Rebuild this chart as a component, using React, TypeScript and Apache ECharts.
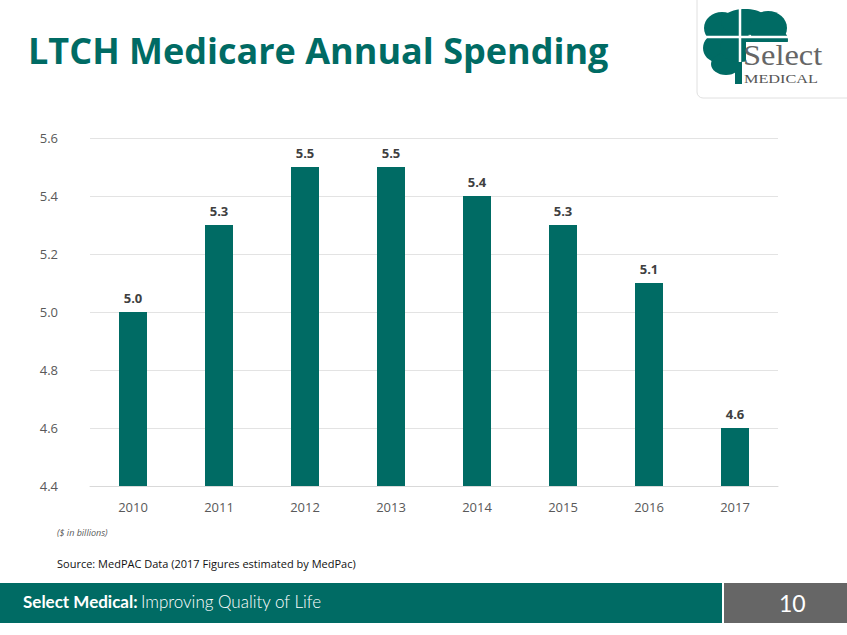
import React, { useEffect, useRef } from "react";
import * as echarts from "echarts";

const categories = ["2010", "2011", "2012", "2013", "2014", "2015", "2016", "2017"];
const spending = [5.0, 5.3, 5.5, 5.5, 5.4, 5.3, 5.1, 4.6];
const yMin = 4.4;
const yMax = 5.6;
const yStep = 0.2;

const TEAL = "#006b64";

export default function App() {
  const ref = useRef<HTMLDivElement>(null);
  useEffect(() => {
    if (!ref.current) return;
    const chart = echarts.init(ref.current, null, { renderer: "svg" });
    chart.setOption({
      animation: false,
      backgroundColor: "#ffffff",
      grid: { left: 90, right: 69, top: 138, bottom: 149 },
      xAxis: {
        type: "category",
        data: categories,
        axisLine: { show: true, lineStyle: { color: "#d9d9d9" } },
        axisTick: { show: false },
        axisLabel: { color: "#595959", fontSize: 13, fontFamily: "Open Sans", margin: 14 },
      },
      yAxis: {
        type: "value",
        min: yMin,
        max: yMax,
        interval: yStep,
        axisLine: { show: false },
        axisTick: { show: false },
        splitLine: { lineStyle: { color: "#e3e3e3" } },
        axisLabel: {
          color: "#595959",
          fontSize: 13,
          fontFamily: "Open Sans",
          margin: 32,
          formatter: (v: number) => v.toFixed(1),
        },
      },
      series: [
        {
          type: "bar",
          data: spending,
          barWidth: 28,
          itemStyle: { color: TEAL },
          label: {
            show: true,
            position: "top",
            distance: 8,
            color: "#404040",
            fontWeight: "bold",
            fontSize: 13,
            fontFamily: "Open Sans",
            formatter: (p: any) => p.value.toFixed(1),
          },
        },
      ],
      graphic: [
        {
          type: "text",
          left: 28,
          top: 32,
          style: {
            text: "LTCH Medicare Annual Spending",
            fill: TEAL,
            font: "bold 36px 'Open Sans'",
          },
        },
        {
          type: "text",
          left: 57,
          top: 528,
          style: { text: "($ in billions)", fill: "#595959", font: "italic 9px 'Open Sans'" },
        },
        {
          type: "text",
          left: 57,
          top: 558,
          style: {
            text: "Source: MedPAC Data (2017 Figures estimated by MedPac)",
            fill: "#111111",
            font: "11px 'Open Sans'",
          },
        },
        // footer
        { type: "rect", shape: { x: 0, y: 583, width: 722, height: 40 }, style: { fill: TEAL } },
        { type: "rect", shape: { x: 724, y: 583, width: 123, height: 40 }, style: { fill: "#666666" } },
        {
          type: "text",
          left: 23,
          top: 593,
          style: {
            text: "{b|Select Medical:} {n|Improving Quality of Life}",
            rich: {
              b: { fill: "#ffffff", font: "bold 17px Lato" },
              n: { fill: "#ffffff", font: "300 17px Lato" },
            },
          },
        },
        {
          type: "text",
          left: 779,
          top: 591,
          style: { text: "10", fill: "#ffffff", font: "23px Lato" },
        },
        // logo box
        {
          type: "rect",
          shape: { x: 697, y: -8, width: 160, height: 106, r: 6 },
          style: { fill: "#ffffff", stroke: "#e0e0e0", lineWidth: 1 },
        },
        {
          type: "group",
          children: [
            { type: "ellipse", shape: { cx: 722, cy: 28, rx: 18, ry: 16 }, style: { fill: TEAL } },
            { type: "ellipse", shape: { cx: 745, cy: 22, rx: 24, ry: 13 }, style: { fill: TEAL } },
            { type: "ellipse", shape: { cx: 768, cy: 28, rx: 19, ry: 17 }, style: { fill: TEAL } },
            { type: "ellipse", shape: { cx: 778, cy: 40, rx: 10, ry: 10 }, style: { fill: TEAL } },
            { type: "ellipse", shape: { cx: 717, cy: 48, rx: 14, ry: 14 }, style: { fill: TEAL } },
            { type: "ellipse", shape: { cx: 726, cy: 64, rx: 15, ry: 11 }, style: { fill: TEAL } },
            { type: "ellipse", shape: { cx: 740, cy: 48, rx: 20, ry: 14 }, style: { fill: TEAL } },
            { type: "rect", shape: { x: 735, y: 60, width: 7, height: 24 }, style: { fill: TEAL } },
            { type: "line", shape: { x1: 740, y1: 8, x2: 740, y2: 62 }, style: { stroke: "#ffffff", lineWidth: 2.5 } },
            { type: "line", shape: { x1: 702, y1: 37, x2: 792, y2: 37 }, style: { stroke: "#ffffff", lineWidth: 2.5 } },
            { type: "rect", shape: { x: 746, y: 42, width: 80, height: 44 }, style: { fill: "#ffffff" } },
          ],
        },
        {
          type: "text",
          x: 743,
          y: 40,
          scaleX: 1.08,
          style: {
            text: "Select",
            fill: "#666666",
            font: "30px 'Liberation Serif'",
            verticalAlign: "top",
            align: "left",
          },
        },
        {
          type: "text",
          x: 744,
          y: 72,
          scaleX: 1.25,
          style: {
            text: "MEDICAL",
            fill: "#555555",
            font: "13px 'Liberation Serif'",
            verticalAlign: "top",
            align: "left",
          },
        },
      ],
    });
    return () => chart.dispose();
  }, []);
  return (
    <div
      ref={ref}
      style={{ position: "fixed", left: 0, top: 0, width: 847, height: 635 }}
    />
  );
}
